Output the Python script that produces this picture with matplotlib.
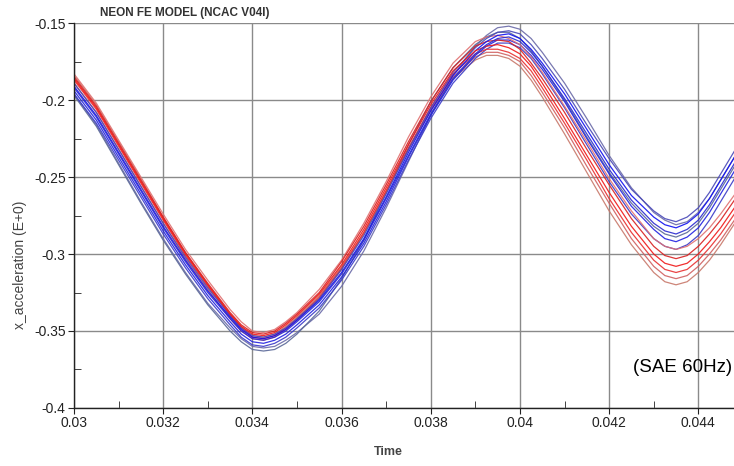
import matplotlib
matplotlib.use("Agg")
import matplotlib.pyplot as plt
import numpy as np

plt.rcParams['font.family'] = ['Liberation Sans', 'DejaVu Sans']

# time samples (s), denser near the extrema
t = [0.0300, 0.0305, 0.0310, 0.0315, 0.0320, 0.0325, 0.0330, 0.0335, 0.03375, 0.0340,
     0.03425, 0.0345, 0.03475, 0.0350, 0.0355, 0.0360, 0.0365, 0.0370, 0.0375, 0.0380,
     0.0385, 0.0390, 0.03925, 0.0395, 0.03975, 0.0400, 0.04025, 0.0405, 0.0410, 0.0415,
     0.0420, 0.0425, 0.0430, 0.04325, 0.0435, 0.04375, 0.0440, 0.04425, 0.0445, 0.0450]

# red runs
r1 = [-0.183, -0.202, -0.226, -0.250, -0.274, -0.297, -0.317, -0.336, -0.344, -0.350,
      -0.351, -0.349, -0.344, -0.338, -0.323, -0.304, -0.280, -0.253, -0.224, -0.198,
      -0.176, -0.162, -0.159, -0.158, -0.160, -0.164, -0.172, -0.182, -0.204, -0.227,
      -0.251, -0.272, -0.290, -0.295, -0.297, -0.295, -0.290, -0.283, -0.274, -0.254]
r2 = [-0.185, -0.204, -0.228, -0.252, -0.276, -0.299, -0.319, -0.338, -0.346, -0.351,
      -0.352, -0.350, -0.345, -0.339, -0.325, -0.305, -0.282, -0.255, -0.227, -0.201,
      -0.179, -0.165, -0.162, -0.161, -0.162, -0.167, -0.176, -0.186, -0.208, -0.232,
      -0.255, -0.277, -0.295, -0.301, -0.303, -0.301, -0.295, -0.287, -0.278, -0.257]
r3 = [-0.186, -0.205, -0.229, -0.253, -0.277, -0.300, -0.320, -0.339, -0.347, -0.352,
      -0.353, -0.351, -0.346, -0.340, -0.326, -0.307, -0.284, -0.257, -0.229, -0.203,
      -0.181, -0.168, -0.165, -0.164, -0.166, -0.170, -0.178, -0.189, -0.212, -0.236,
      -0.260, -0.282, -0.300, -0.306, -0.308, -0.306, -0.300, -0.292, -0.283, -0.262]
r4 = [-0.187, -0.206, -0.230, -0.254, -0.278, -0.301, -0.321, -0.340, -0.348, -0.354,
      -0.355, -0.353, -0.348, -0.342, -0.328, -0.309, -0.286, -0.259, -0.231, -0.205,
      -0.183, -0.170, -0.167, -0.167, -0.169, -0.173, -0.181, -0.192, -0.215, -0.239,
      -0.264, -0.286, -0.304, -0.310, -0.312, -0.310, -0.304, -0.296, -0.287, -0.266]
r5 = [-0.189, -0.208, -0.232, -0.256, -0.280, -0.303, -0.323, -0.342, -0.350, -0.355,
      -0.356, -0.354, -0.349, -0.343, -0.329, -0.310, -0.287, -0.260, -0.232, -0.206,
      -0.185, -0.172, -0.169, -0.169, -0.171, -0.175, -0.184, -0.195, -0.218, -0.243,
      -0.267, -0.290, -0.308, -0.314, -0.316, -0.314, -0.308, -0.300, -0.291, -0.270]
r6 = [-0.184, -0.203, -0.227, -0.251, -0.276, -0.299, -0.320, -0.339, -0.347, -0.353,
      -0.354, -0.352, -0.347, -0.341, -0.327, -0.308, -0.286, -0.259, -0.232, -0.207,
      -0.186, -0.174, -0.171, -0.171, -0.173, -0.178, -0.187, -0.198, -0.222, -0.247,
      -0.272, -0.294, -0.312, -0.318, -0.320, -0.318, -0.312, -0.304, -0.294, -0.272]

# blue runs
b1 = [-0.189, -0.208, -0.232, -0.256, -0.280, -0.302, -0.322, -0.340, -0.348, -0.353,
      -0.354, -0.352, -0.348, -0.342, -0.329, -0.310, -0.288, -0.261, -0.232, -0.205,
      -0.182, -0.166, -0.160, -0.156, -0.155, -0.157, -0.164, -0.173, -0.193, -0.216,
      -0.238, -0.258, -0.272, -0.277, -0.279, -0.276, -0.270, -0.260, -0.248, -0.224]
b2 = [-0.191, -0.210, -0.234, -0.258, -0.282, -0.304, -0.324, -0.341, -0.349, -0.354,
      -0.355, -0.353, -0.349, -0.343, -0.330, -0.312, -0.290, -0.263, -0.234, -0.207,
      -0.184, -0.168, -0.162, -0.158, -0.157, -0.160, -0.167, -0.176, -0.196, -0.219,
      -0.242, -0.262, -0.276, -0.281, -0.283, -0.280, -0.274, -0.264, -0.252, -0.228]
b3 = [-0.192, -0.211, -0.235, -0.259, -0.283, -0.305, -0.325, -0.342, -0.350, -0.355,
      -0.356, -0.354, -0.350, -0.344, -0.331, -0.313, -0.291, -0.264, -0.236, -0.209,
      -0.186, -0.170, -0.164, -0.160, -0.159, -0.162, -0.169, -0.178, -0.199, -0.222,
      -0.245, -0.265, -0.280, -0.285, -0.287, -0.284, -0.278, -0.268, -0.256, -0.232]
b4 = [-0.194, -0.213, -0.237, -0.261, -0.285, -0.307, -0.327, -0.344, -0.352, -0.357,
      -0.358, -0.356, -0.352, -0.346, -0.333, -0.315, -0.293, -0.266, -0.237, -0.210,
      -0.187, -0.171, -0.165, -0.161, -0.161, -0.164, -0.171, -0.180, -0.201, -0.225,
      -0.248, -0.269, -0.284, -0.290, -0.292, -0.289, -0.283, -0.273, -0.261, -0.237]
b5 = [-0.196, -0.215, -0.239, -0.263, -0.287, -0.309, -0.329, -0.346, -0.354, -0.359,
      -0.360, -0.358, -0.354, -0.348, -0.335, -0.317, -0.295, -0.268, -0.239, -0.212,
      -0.189, -0.173, -0.167, -0.163, -0.163, -0.166, -0.173, -0.183, -0.205, -0.229,
      -0.253, -0.274, -0.290, -0.295, -0.297, -0.294, -0.288, -0.278, -0.266, -0.242]
b6 = [-0.197, -0.217, -0.242, -0.267, -0.291, -0.313, -0.333, -0.350, -0.357, -0.362,
      -0.363, -0.362, -0.358, -0.352, -0.337, -0.316, -0.291, -0.260, -0.229, -0.201,
      -0.179, -0.164, -0.159, -0.156, -0.156, -0.160, -0.168, -0.178, -0.200, -0.224,
      -0.247, -0.267, -0.282, -0.287, -0.289, -0.286, -0.280, -0.270, -0.258, -0.234]
b7 = [-0.196, -0.216, -0.241, -0.266, -0.290, -0.312, -0.332, -0.348, -0.355, -0.360,
      -0.361, -0.360, -0.356, -0.351, -0.339, -0.321, -0.298, -0.270, -0.240, -0.210,
      -0.184, -0.165, -0.158, -0.153, -0.152, -0.154, -0.160, -0.169, -0.189, -0.212,
      -0.236, -0.257, -0.273, -0.278, -0.281, -0.279, -0.273, -0.264, -0.252, -0.228]

xticks = [0.030, 0.032, 0.034, 0.036, 0.038, 0.040, 0.042, 0.044]
xlabels = ['0.03', '0.032', '0.034', '0.036', '0.038', '0.04', '0.042', '0.044']
yticks = [-0.40, -0.35, -0.30, -0.25, -0.20, -0.15]
ylabels = ['-0.4', '-0.35', '-0.3', '-0.25', '-0.2', '-0.15']

fig = plt.figure(figsize=(7.34, 4.66), dpi=100)
ax = fig.add_axes([0.1008, 0.1245, 0.8992, 0.826])

ax.grid(True, which='major', color='#8a8a8a', lw=1.0, zorder=0)
ax.set_axisbelow(True)

# interleave red and blue like the overlaid runs
runs = [
    (b7, '#6a6aa8'), (r6, '#c8786a'), (b6, '#5a6898'), (r5, '#d06060'),
    (b5, '#3a3ac8'), (r4, '#e83030'), (b4, '#2020e0'), (r1, '#e07070'),
    (b1, '#4848b8'), (r2, '#d82020'), (b2, '#1010f0'), (r3, '#f01818'),
    (b3, '#2a2ad0'),
]
for y, c in runs:
    ax.plot(t, y, color=c, lw=0.9, alpha=0.9, zorder=2)

ax.set_xlim(0.030, 0.0448)
ax.set_ylim(-0.40, -0.15)
ax.set_xticks(xticks)
ax.set_xticklabels(xlabels)
ax.set_yticks(yticks)
ax.set_yticklabels(ylabels)
ax.set_xticks([0.031, 0.033, 0.035, 0.037, 0.039, 0.041, 0.043], minor=True)
ax.set_yticks([-0.375, -0.325, -0.275, -0.225, -0.175], minor=True)
ax.tick_params(which='major', direction='out', length=4, labelsize=10,
               colors='#222222', pad=2)
ax.tick_params(which='minor', direction='in', length=5, color='#222222')

for s in ['top', 'right']:
    ax.spines[s].set_visible(False)
for s in ['left', 'bottom']:
    ax.spines[s].set_color('#222222')
    ax.spines[s].set_linewidth(1.0)

fig.text(100 / 734, 1 - 13 / 466, 'NEON FE MODEL (NCAC V04I)', fontsize=8.5,
         fontweight='bold', color='#333333', va='center', ha='left')
fig.text(20 / 734, 1 - 265 / 466, 'x_acceleration (E+0)', rotation=90,
         fontsize=10, color='#444444', va='center', ha='center')
fig.text(388 / 734, 1 - 452 / 466, 'Time', fontsize=9, fontweight='bold',
         color='#444444', va='center', ha='center')
ax.text(0.9978, 0.105, '(SAE 60Hz)', transform=ax.transAxes, fontsize=13.5,
        color='black', ha='right', va='center')

fig.savefig('out.png', dpi=100)
